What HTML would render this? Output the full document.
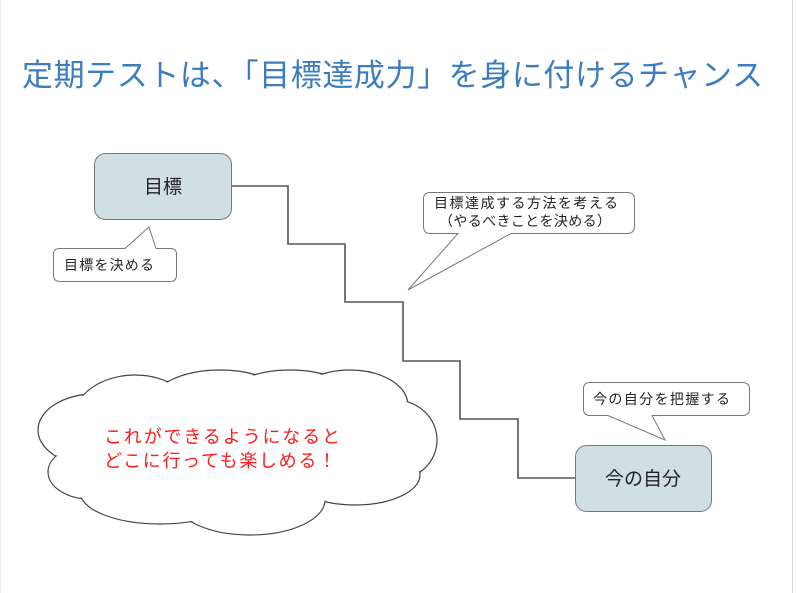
<!DOCTYPE html>
<html><head><meta charset="utf-8"><style>
body{margin:0;background:#fff;}
svg{display:block;font-family:"Liberation Sans","Noto Sans CJK JP",sans-serif;}
</style></head><body>
<svg width="796" height="593" viewBox="0 0 796 593">
<rect x="0" y="0" width="796" height="593" fill="#fff"/>
<line x1="792.5" y1="0" x2="792.5" y2="593" stroke="#d8d8d8" stroke-width="1"/>
<line x1="0.5" y1="0" x2="0.5" y2="593" stroke="#eee" stroke-width="1"/>
<text x="22" y="86" font-size="31" fill="#3c7dc0" textLength="741" lengthAdjust="spacing">定期テストは、「目標達成力」を身に付けるチャンス</text>

<polyline points="231,186 288,186 288,244 345,244 345,302 403,302 403,361 460,361 460,419 518,419 518,478 576,478" fill="none" stroke="#555" stroke-width="1.6"/>

<rect x="94.5" y="153.5" width="137" height="66" rx="11" fill="#d0dfe2" stroke="#777"/>
<text x="163" y="193" font-size="19" text-anchor="middle" fill="#222">目標</text>

<rect x="575.5" y="445.5" width="136" height="66" rx="11" fill="#d0dfe2" stroke="#777"/>
<text x="643" y="485" font-size="19" text-anchor="middle" fill="#222">今の自分</text>

<path d="M60,248.5 H125 L149,227 L156,248.5 H170 Q176.5,248.5 176.5,254 V275 Q176.5,281.5 170,281.5 H60 Q53.5,281.5 53.5,275 V254 Q53.5,248.5 60,248.5 Z" fill="#fff" stroke="#777"/>
<text x="64" y="270" font-size="14" fill="#222" textLength="90" lengthAdjust="spacing">目標を決める</text>

<path d="M430,192.5 H627 Q634.5,192.5 634.5,199 V226 Q634.5,233.5 627,233.5 H511 L408,290 L458,233.5 H430 Q423.5,233.5 423.5,226 V199 Q423.5,192.5 430,192.5 Z" fill="#fff" stroke="#777"/>
<text x="434" y="208" font-size="14" fill="#222" textLength="184" lengthAdjust="spacing">目標達成する方法を考える</text>
<text x="439" y="226" font-size="14" fill="#222" textLength="172" lengthAdjust="spacing">（やるべきことを決める）</text>

<path d="M590,382.5 H742 Q749.5,382.5 749.5,389 V409 Q749.5,415.5 742,415.5 H652 L665,440 L608,415.5 H590 Q583.5,415.5 583.5,409 V389 Q583.5,382.5 590,382.5 Z" fill="#fff" stroke="#777"/>
<text x="593" y="404" font-size="14" fill="#222" textLength="137" lengthAdjust="spacing">今の自分を把握する</text>

<g stroke="#444" stroke-width="1.2" fill="#fff">
<ellipse cx="95" cy="430" rx="57" ry="36"/>
<ellipse cx="90" cy="472" rx="42" ry="27"/>
<ellipse cx="135" cy="420" rx="62" ry="45"/>
<ellipse cx="220" cy="405" rx="70" ry="35"/>
<ellipse cx="290" cy="395" rx="60" ry="25"/>
<ellipse cx="350" cy="405" rx="58" ry="35"/>
<ellipse cx="395" cy="440" rx="42" ry="40"/>
<ellipse cx="355" cy="475" rx="65" ry="30"/>
<ellipse cx="250" cy="500" rx="75" ry="35"/>
<ellipse cx="160" cy="492" rx="80" ry="32"/>
</g>
<g fill="#fff">
<ellipse cx="95" cy="430" rx="56" ry="35"/>
<ellipse cx="90" cy="472" rx="41" ry="26"/>
<ellipse cx="135" cy="420" rx="61" ry="44"/>
<ellipse cx="220" cy="405" rx="69" ry="34"/>
<ellipse cx="290" cy="395" rx="59" ry="24"/>
<ellipse cx="350" cy="405" rx="57" ry="34"/>
<ellipse cx="395" cy="440" rx="41" ry="39"/>
<ellipse cx="355" cy="475" rx="64" ry="29"/>
<ellipse cx="250" cy="500" rx="74" ry="34"/>
<ellipse cx="160" cy="492" rx="79" ry="31"/>
<rect x="100" y="405" width="280" height="95"/>
</g>
<text x="104" y="443" font-size="18" fill="#ff1a1a" textLength="236" lengthAdjust="spacing">これができるようになると</text>
<text x="104" y="467" font-size="18" fill="#ff1a1a" textLength="232" lengthAdjust="spacing">どこに行っても楽しめる！</text>
</svg>
</body></html>
